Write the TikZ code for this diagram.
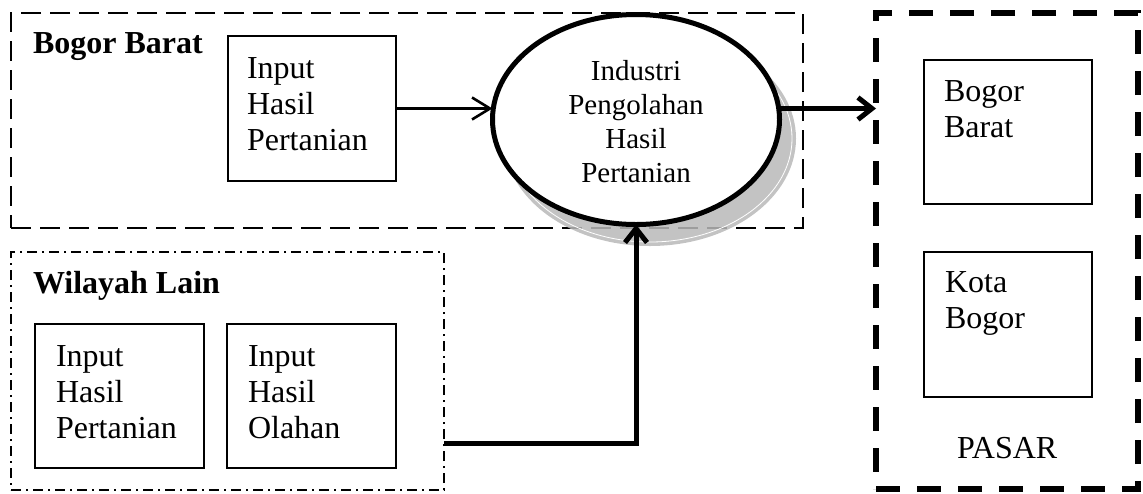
\documentclass[tikz,border=0pt]{standalone}
\usepackage{fontspec}
\setmainfont{Liberation Serif}
\usetikzlibrary{arrows.meta,shapes.geometric,fit}
\begin{document}
\begin{tikzpicture}[x=0.5pt,y=-0.5pt,
  every node/.style={outer sep=0pt},
  region/.style={draw, line width=1pt, dash pattern=on 10pt off 4.5pt, inner sep=0pt},
  otherregion/.style={draw, line width=1pt, dash pattern=on 5pt off 2.5pt on 1pt off 2.5pt, inner sep=0pt},
  market/.style={draw, line width=3pt, dash pattern=on 12pt off 8.5pt, inner sep=0pt},
  itembox/.style={draw, line width=0.75pt, inner sep=0pt},
  txt/.style={font=\fontsize{16}{18}\selectfont, align=left, anchor=base west, inner sep=0pt},
  head/.style={txt, font=\fontsize{16}{18}\selectfont\bfseries},
  flow/.style={line width=1.3pt, -{Straight Barb[length=9pt,width=11pt]}},
  thickflow/.style={line width=2.5pt, -{Straight Barb[length=7pt,width=11pt]}},
  proc/.style={ellipse, draw, line width=2.5pt, fill=white, inner sep=0pt,
    minimum width=143.5pt, minimum height=105pt, align=center,
    font=\fontsize{14.5}{17}\selectfont}
]
\useasboundingbox (0,0) rectangle (1143,493);

% regions
\node[region, fit={(11,13) (803,228)}] (bb) {};
\node[otherregion, fit={(11,252) (444,490)}] (wil) {};
\node[market, fit={(876,13) (1138,489)}] (pasar) {};

% boxes
\node[itembox, fit={(228,36) (396,181)}] (ib1) {};
\node[itembox, fit={(35,324) (204,468)}] (wb1) {};
\node[itembox, fit={(227,324) (396,468)}] (wb2) {};
\node[itembox, fit={(924,60) (1092,204)}] (pb1) {};
\node[itembox, fit={(924,252) (1092,397)}] (pb2) {};

% texts (anchored at the baseline of the last line)
\node[head] (tbb) at (33,53) {Bogor Barat};
\node[head] (twil) at (33,293) {Wilayah Lain};
\node[txt] (tib1) at (247,150) {Input\\Hasil\\Pertanian};
\node[txt] (twb1) at (56,438) {Input\\Hasil\\Pertanian};
\node[txt] (twb2) at (248,438) {Input\\Hasil\\Olahan};
\node[txt] (tpb1) at (944,137) {Bogor\\Barat};
\node[txt] (tpb2) at (945,328) {Kota\\Bogor};
\node[txt] (tpas) at (957,458) {PASAR};

% shadow of the process ellipse
\fill[gray!55, fill opacity=0.85] (650,138.5) ellipse [x radius=73pt, y radius=53.75pt];
\draw[white, line width=0.4pt] (650,138.5) ellipse [x radius=71pt, y radius=51.75pt];

% process
\node[proc] (ell) at (636,119.5) {};
\node[align=center, font=\fontsize{14.5}{17}\selectfont, inner sep=0pt, anchor=base] (tell) at (636,182) {Industri\\Pengolahan\\Hasil\\Pertanian};

% connectors
\coordinate (elbow) at (636,443);
\draw[flow] (ib1.east) -- (ib1.east -| ell.west);
\draw[thickflow] (ell.east |- ib1.east) -- (ib1.east -| pasar.west);
\draw[thickflow] (wil.east |- elbow) -- (elbow) -- (ell.south);
\end{tikzpicture}
\end{document}
